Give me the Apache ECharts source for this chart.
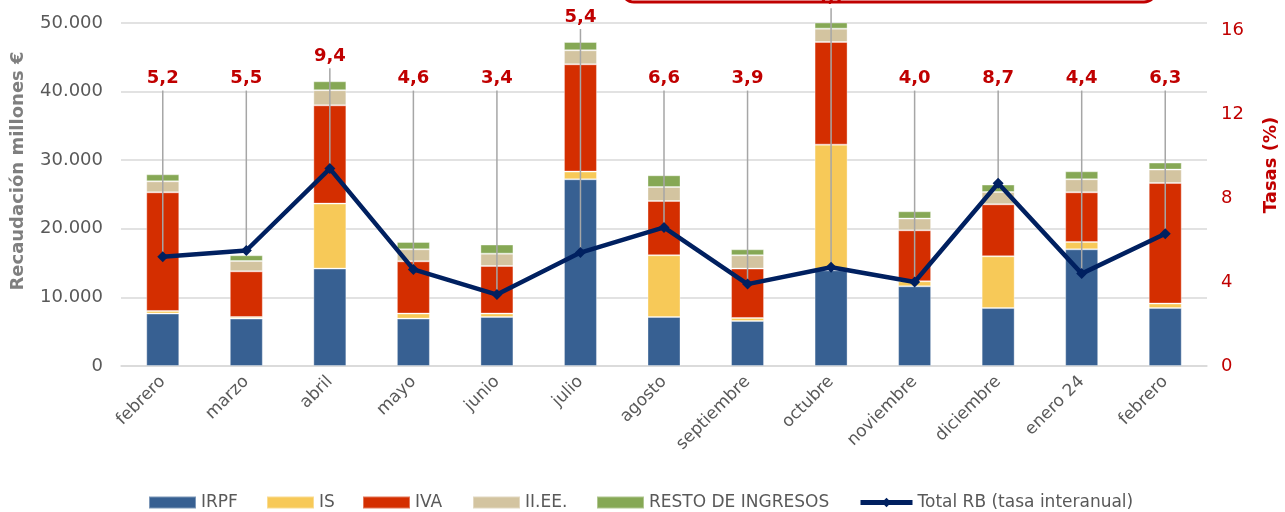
<!DOCTYPE html>
<html>
<head>
<meta charset="utf-8">
<style>
  html, body { margin: 0; padding: 0; background: #fff; }
  #chart { width: 1285px; height: 512px; }
</style>
<script src="https://cdn.jsdelivr.net/npm/echarts@6/dist/echarts.min.js"></script>
</head>
<body>
<div id="chart"></div>
<script>
// Monthly tax revenue by concept (millones €) and year-on-year growth of total revenue (%)
const months = ['febrero', 'marzo', 'abril', 'mayo', 'junio', 'julio', 'agosto',
  'septiembre', 'octubre', 'noviembre', 'diciembre', 'enero 24', 'febrero'];
const irpf  = [7640, 6910, 14200, 6910, 7140, 27220, 7140, 6560, 13950, 11620, 8450, 17010, 8450];
const is    = [380, 230, 9470, 730, 500, 1120, 9000, 440, 18320, 730, 7540, 1070, 650];
const iva   = [17300, 6660, 14330, 7620, 6940, 15640, 7910, 7200, 14960, 7430, 7580, 7240, 17580];
const iiee  = [1600, 1500, 2200, 1750, 1800, 2040, 2040, 1940, 1950, 1710, 1790, 1900, 1950];
const resto = [1020, 840, 1300, 1070, 1320, 1210, 1710, 870, 1070, 1060, 1080, 1160, 1020];
const tasa  = [5.2, 5.5, 9.4, 4.6, 3.4, 5.4, 6.6, 3.9, 4.7, 4.0, 8.7, 4.4, 6.3];
const leftTicks  = [0, 10000, 20000, 30000, 40000, 50000];
const rightTicks = [0, 4, 8, 12, 16];
const seriesNames = ['IRPF', 'IS', 'IVA', 'II.EE.', 'RESTO DE INGRESOS', 'Total RB (tasa interanual)'];

const EURO_MAX = 50000;
const RATE_MAX = 16.333;          // secondary axis spans a little above its last tick
const LABEL_LEVEL = 41900;        // default height of the rate labels (in € units)
const FONT = '"DejaVu Sans", Verdana, sans-serif';
const GREY = '#595959';
const RED = '#C00000';
const NAVY = '#002060';
const COLORS = ['#376092', '#F7C958', '#D42E00', '#D3C4A0', '#86A855'];

const totals = months.map((_, i) => irpf[i] + is[i] + iva[i] + iiee[i] + resto[i]);
const fmtThousands = v => String(v).replace(/\B(?=(\d{3})+(?!\d))/g, '.');
const fmtRate = v => v.toFixed(1).replace('.', ',');

const chart = echarts.init(document.getElementById('chart'), null, { renderer: 'canvas' });

function barSeries(name, data, color) {
  return {
    name, type: 'bar', stack: 'total', data, barWidth: 33, z: 2,
    itemStyle: { color, borderColor: 'rgba(255,255,255,0.35)', borderWidth: 1 },
    emphasis: { disabled: true }
  };
}

// one legend block per entry so each sits at its own spot along the bottom row
const legendLeft = [148, 266, 362, 472, 596, 858];
const legends = seriesNames.map((name, k) => {
  const isLine = k === seriesNames.length - 1;
  return {
    left: legendLeft[k], top: 494, orient: 'horizontal', padding: 0,
    itemWidth: isLine ? 52 : 47, itemHeight: 12, itemGap: 0,
    textStyle: { color: GREY, fontFamily: FONT, fontSize: 17 },
    data: [isLine
      ? { name, lineStyle: { color: NAVY, width: 5 }, itemStyle: { color: NAVY } }
      : { name, icon: 'rect' }]
  };
});

const option = {
  animation: false,
  backgroundColor: '#ffffff',
  grid: { left: 121, right: 78, top: 23, bottom: 146, containLabel: false },
  legend: legends,
  xAxis: {
    type: 'category', data: months,
    axisLine: { show: true, lineStyle: { color: '#d9d9d9', width: 1.5 } },
    axisTick: { show: false },
    axisLabel: {
      rotate: 45, interval: 0, margin: 13,
      color: GREY, fontFamily: FONT, fontSize: 17
    }
  },
  yAxis: [
    {
      type: 'value', min: leftTicks[0], max: leftTicks[leftTicks.length - 1],
      interval: leftTicks[1] - leftTicks[0],
      axisLine: { show: false }, axisTick: { show: false },
      axisLabel: { color: GREY, fontFamily: FONT, fontSize: 18, margin: 18, formatter: fmtThousands },
      splitLine: { lineStyle: { color: '#d9d9d9', width: 1.5 } }
    },
    {
      type: 'value', min: 0, max: RATE_MAX, interval: rightTicks[1] - rightTicks[0],
      axisLine: { show: false }, axisTick: { show: false },
      axisLabel: {
        color: RED, fontFamily: FONT, fontSize: 18, margin: 14,
        formatter: v => rightTicks.indexOf(v) >= 0 ? String(v) : ''
      },
      splitLine: { show: false }
    }
  ],
  series: [
    barSeries(seriesNames[0], irpf, COLORS[0]),
    barSeries(seriesNames[1], is, COLORS[1]),
    barSeries(seriesNames[2], iva, COLORS[2]),
    barSeries(seriesNames[3], iiee, COLORS[3]),
    barSeries(seriesNames[4], resto, COLORS[4]),
    {
      // leader lines and value labels for the growth rate
      type: 'custom', yAxisIndex: 1, z: 3, silent: true,
      data: months.map((_, i) => [i, tasa[i], totals[i]]),
      renderItem: function (params, api) {
        const i = api.value(0);
        const rate = api.value(1);
        const total = api.value(2);
        const pt = api.coord([i, rate]);
        const barTop = api.coord([i, total * RATE_MAX / EURO_MAX])[1];
        const level = api.coord([i, LABEL_LEVEL * RATE_MAX / EURO_MAX])[1];
        const ly = Math.min(level, barTop - 25);
        return {
          type: 'group',
          children: [
            {
              type: 'line',
              shape: { x1: pt[0], y1: ly + 12, x2: pt[0], y2: pt[1] },
              style: { stroke: '#a6a6a6', lineWidth: 1.5 }
            },
            {
              type: 'text',
              x: pt[0], y: ly,
              style: {
                text: fmtRate(rate), fill: RED,
                font: 'bold 18px ' + FONT,
                textAlign: 'center', textVerticalAlign: 'middle'
              }
            }
          ]
        };
      }
    },
    {
      name: seriesNames[5], type: 'line', yAxisIndex: 1, z: 4,
      data: tasa,
      symbol: 'diamond', symbolSize: 11, showAllSymbol: true,
      lineStyle: { color: NAVY, width: 4.5 },
      itemStyle: { color: NAVY },
      emphasis: { disabled: true }
    }
  ],
  graphic: [
    {
      type: 'text', x: 18, y: 171, rotation: Math.PI / 2,
      style: {
        text: 'Recaudación millones €', fill: '#7f7f7f',
        font: 'bold 18px ' + FONT, textAlign: 'center', textVerticalAlign: 'middle'
      }
    },
    {
      type: 'text', x: 1271, y: 165, rotation: Math.PI / 2,
      style: {
        text: 'Tasas (%)', fill: RED,
        font: 'bold 18px ' + FONT, textAlign: 'center', textVerticalAlign: 'middle'
      }
    },
    {
      // bottom edge of a callout box sitting above the chart
      type: 'rect',
      shape: { x: 622, y: -40, width: 534, height: 42, r: 12 },
      style: { fill: 'none', stroke: RED, lineWidth: 3 }
    }
  ]
};

chart.setOption(option);
</script>
</body>
</html>
